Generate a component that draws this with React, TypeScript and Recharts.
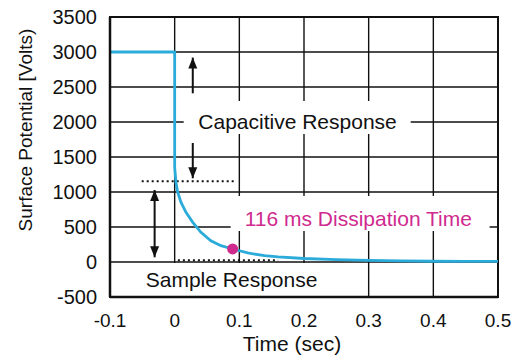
import { LineChart, Line, XAxis, YAxis, CartesianGrid, ReferenceArea, ReferenceLine, ReferenceDot } from 'recharts';

const FONT = '"Liberation Sans", Arial, Helvetica, sans-serif';
const CYAN = '#2aabd9';
const MAGENTA = '#cf2a8e';

// time (sec) and surface potential (volts)
const times = [-0.1, 0, 0, 0.002, 0.0046, 0.0097, 0.0175, 0.028, 0.0406, 0.056, 0.0716, 0.0896, 0.113, 0.139, 0.16, 0.2, 0.25, 0.3, 0.35, 0.4, 0.45, 0.5];
const volts = [3000, 3000, 1350, 1140, 1000, 855, 710, 567, 424, 304, 233, 186, 129, 90, 72, 50, 34, 24, 16, 11, 9, 8];

const xTicks = [-0.1, 0, 0.1, 0.2, 0.3, 0.4, 0.5];
const yTicks = [-500, 0, 500, 1000, 1500, 2000, 2500, 3000, 3500];

const dissipationPoint = { t: 0.0896, v: 186 };

const data = times.map((t, i) => ({ t, v: volts[i] }));

function Arrow(props: any) {
  const { x1, y1, x2, y2, both } = props;
  const head = (tx: number, ty: number, fx: number, fy: number) => {
    const dx = tx - fx;
    const dy = ty - fy;
    const len = Math.sqrt(dx * dx + dy * dy) || 1;
    const ux = dx / len;
    const uy = dy / len;
    const L = 11;
    const W = 4.5;
    const bx = tx - ux * L;
    const by = ty - uy * L;
    return `${tx},${ty} ${bx - uy * W},${by + ux * W} ${bx + uy * W},${by - ux * W}`;
  };
  return (
    <g>
      <line x1={x1} y1={y1} x2={x2} y2={y2} stroke="#111" strokeWidth={2} />
      <polygon points={head(x2, y2, x1, y1)} fill="#111" />
      {both && <polygon points={head(x1, y1, x2, y2)} fill="#111" />}
    </g>
  );
}

const textStyle = { fontSize: 21, fill: '#111', fontFamily: FONT };

export default function App() {
  return (
    <div style={{ position: 'absolute', left: 0, top: 0, background: '#fff' }}>
      <LineChart width={519} height={356} data={data} margin={{ top: 17, right: 21, left: 0, bottom: 0 }}>
        <CartesianGrid stroke="#111" strokeWidth={1.4} horizontalValues={yTicks} verticalValues={xTicks} />
        <XAxis
          dataKey="t"
          type="number"
          domain={[-0.1, 0.5]}
          ticks={xTicks}
          interval={0}
          allowDataOverflow
          height={59}
          tickSize={0}
          tickMargin={17}
          tickFormatter={(v: number) => String(v)}
          tick={{ fontSize: 19, fill: '#111', fontFamily: FONT }}
          axisLine={{ stroke: '#111', strokeWidth: 2.5 }}
          label={{
            content: (p: any) => {
              const vb = p.viewBox;
              return (
                <text x={vb.x + vb.width / 2 - 12} y={vb.y + vb.height - 5} textAnchor="middle" fontSize={21} fill="#111" fontFamily={FONT}>
                  Time (sec)
                </text>
              );
            },
          }}
        />
        <YAxis
          type="number"
          domain={[-500, 3500]}
          ticks={yTicks}
          interval={0}
          width={110}
          tickSize={0}
          tickMargin={13}
          tick={{ fontSize: 20, fill: '#111', fontFamily: FONT }}
          axisLine={{ stroke: '#111', strokeWidth: 2.5 }}
          label={{
            content: (p: any) => {
              const vb = p.viewBox;
              const cx = vb.x + 25;
              const cy = vb.y + vb.height / 2 - 27;
              return (
                <text x={cx} y={cy} transform={`rotate(-90, ${cx}, ${cy})`} textAnchor="middle" dominantBaseline="central" fontSize={19} fill="#111" fontFamily={FONT}>
                  Surface Potential [Volts)
                </text>
              );
            },
          }}
        />

        {/* white boxes behind the annotations */}
        <ReferenceArea x1={0.014} x2={0.365} y1={1830} y2={2300} fill="#fff" fillOpacity={1} stroke="none" />
        <ReferenceArea x1={0.0866} x2={0.487} y1={443} y2={943} fill="#fff" fillOpacity={1} stroke="none" />
        <ReferenceArea x1={-0.098} x2={0.24} y1={-490} y2={-15} fill="#fff" fillOpacity={1} stroke="none" />
        {/* plot frame */}
        <ReferenceArea x1={-0.1} x2={0.5} y1={-500} y2={3500} fill="none" stroke="#111" strokeWidth={2} />

        {/* dotted reference levels */}
        <ReferenceLine segment={[{ x: -0.051, y: 1153 }, { x: 0.094, y: 1153 }]} stroke="#111" strokeWidth={2} strokeDasharray="2 3" />
        <ReferenceLine segment={[{ x: 0.005, y: 25 }, { x: 0.16, y: 25 }]} stroke="#111" strokeWidth={2} strokeDasharray="2 3" />

        {/* arrows */}
        <ReferenceLine segment={[{ x: 0.028, y: 2410 }, { x: 0.028, y: 2920 }]} shape={(p: any) => <Arrow {...p} />} />
        <ReferenceLine segment={[{ x: 0.028, y: 1700 }, { x: 0.028, y: 1196 }]} shape={(p: any) => <Arrow {...p} />} />
        <ReferenceLine segment={[{ x: -0.031, y: 1029 }, { x: -0.031, y: 67 }]} shape={(p: any) => <Arrow {...p} both />} />

        <Line type="linear" dataKey="v" stroke={CYAN} strokeWidth={2.8} dot={false} activeDot={false} isAnimationActive={false} />

        <ReferenceDot x={dissipationPoint.t} y={dissipationPoint.v} r={5.5} fill={MAGENTA} stroke="none" />

        <ReferenceDot x={0.19} y={2010} r={0} stroke="none" label={{ value: 'Capacitive Response', position: 'center', ...textStyle }} />
        <ReferenceDot x={0.284} y={621} r={0} stroke="none" label={{ value: '116 ms Dissipation Time', position: 'center', ...textStyle, fill: MAGENTA }} />
        <ReferenceDot x={0.088} y={-250} r={0} stroke="none" label={{ value: 'Sample Response', position: 'center', ...textStyle }} />
      </LineChart>
    </div>
  );
}
